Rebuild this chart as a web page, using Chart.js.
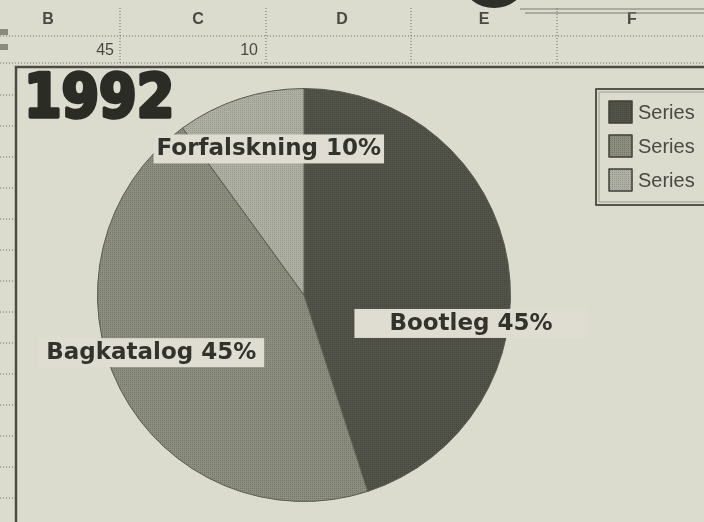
<!DOCTYPE html>
<html>
<head>
<meta charset="utf-8">
<script src="https://cdn.jsdelivr.net/npm/chart.js@4/dist/chart.umd.min.js"></script>
<style>
body{margin:0;background:#dbdbce;}
#wrap{width:704px;height:522px;position:relative;}
</style>
</head>
<body>
<div id="wrap"><canvas id="chart" width="704" height="522"></canvas></div>

<script>

// sheet values
let categories=["Bootleg","Bagkatalog","Forfalskning"];

let shares=[45,45,10];

let legendNames=["Series","Series","Series"];

let columns=["B","C","D","E","F"];

let rowValues=["45","10"];

let year="1992";



let paper="#dbdbce";
let ink="#33332d";


// halftone style fill for each slice
function halftone(a,b){

let c=document.createElement("canvas");
c.width=4;
c.height=4;

let g=c.getContext("2d");
g.fillStyle=a;
g.fillRect(0,0,4,4);
g.fillStyle=b;
g.fillRect(0,0,1,1);
g.fillRect(2,2,1,1);
g.fillRect(2,0,1,1);
g.fillRect(0,2,1,1);

return g.createPattern(c,"repeat");

}


let fills=[
halftone("#52544a","#46483e"),
halftone("#8d8f81","#727466"),
halftone("#aeb0a3","#96988b")
];



function dotted(ctx,x1,y1,x2,y2){

ctx.save();
ctx.strokeStyle="#6c6c62";
ctx.lineWidth=1;
ctx.setLineDash([1,2]);
ctx.beginPath();
ctx.moveTo(x1,y1);
ctx.lineTo(x2,y2);
ctx.stroke();
ctx.restore();

}



// spreadsheet around the chart, frame, title and legend
let sheet={

id:"sheet",

beforeDraw(chart){

let ctx=chart.ctx;

ctx.save();

ctx.fillStyle=paper;
ctx.fillRect(0,0,chart.width,chart.height);


// column heads
ctx.fillStyle="#4a4a44";
ctx.font="bold 16px 'Liberation Sans Narrow', 'Liberation Sans'";
ctx.textAlign="center";
ctx.textBaseline="middle";

let heads=[48,198,342,484,632];
columns.forEach((t,i)=>ctx.fillText(t,heads[i],20));

[120,266,411,557].forEach(x=>dotted(ctx,x,8,x,64));

dotted(ctx,0,36,704,36);
dotted(ctx,0,63,704,63);


// first data row
ctx.font="16px 'Liberation Sans'";
ctx.textAlign="right";
ctx.fillText(rowValues[0],114,51);
ctx.fillText(rowValues[1],258,51);


// row header marks on the left
ctx.fillStyle="#8a8a80";
ctx.fillRect(0,29,8,6);
ctx.fillRect(0,44,8,6);

for(let y=95;y<522;y+=31){
dotted(ctx,0,y,14,y);
}


// lens edge at the top
ctx.fillStyle="#2f2f2a";
ctx.beginPath();
ctx.ellipse(494,-16,30,24,0,0,Math.PI);
ctx.fill();
ctx.fillStyle=paper;
ctx.beginPath();
ctx.ellipse(494,-20,24,20,0,0,Math.PI);
ctx.fill();

ctx.strokeStyle="#7a7a70";
ctx.lineWidth=1;
ctx.beginPath();
ctx.moveTo(520,9);
ctx.lineTo(704,9);
ctx.moveTo(525,13);
ctx.lineTo(704,13);
ctx.stroke();


// chart frame
ctx.strokeStyle="#4c4c44";
ctx.lineWidth=2.5;
ctx.strokeRect(16,67,700,470);


// title
ctx.fillStyle="#2c2c26";
ctx.strokeStyle="#2c2c26";
ctx.lineWidth=3.5;
ctx.lineJoin="round";
ctx.font="bold 60px 'DejaVu Sans Condensed'";
ctx.textAlign="left";
ctx.textBaseline="alphabetic";
ctx.fillText(year,24,117);
ctx.strokeText(year,24,117);


// legend box
ctx.strokeStyle="#55554c";
ctx.lineWidth=2;
ctx.strokeRect(596,89,120,116);
ctx.lineWidth=1;
ctx.strokeStyle="#9a9a90";
ctx.strokeRect(599,92,114,110);

ctx.font="20px 'Liberation Sans'";
ctx.textBaseline="middle";

legendNames.forEach((t,i)=>{

let y=101+i*34;

ctx.fillStyle=fills[i];
ctx.fillRect(609,y,23,22);
ctx.strokeStyle="#3f3f38";
ctx.lineWidth=1.5;
ctx.strokeRect(609,y,23,22);

ctx.fillStyle="#4a4a44";
ctx.fillText(t,638,y+12);

});

ctx.restore();

}

};



// where each slice label sits: angle nudge (deg) and fraction of radius
let labelSpot=[
{da:18.5,f:0.82,pad:35},
{da:6.5,f:0.79,pad:8},
{da:4.5,f:0.73,pad:3}
];


let sliceLabels={

id:"sliceLabels",

afterDatasetsDraw(chart){

let ctx=chart.ctx;
let arcs=chart.getDatasetMeta(0).data;
let total=shares.reduce((a,b)=>a+b,0);

ctx.save();

ctx.font="bold 23px 'DejaVu Sans'";
ctx.textAlign="center";
ctx.textBaseline="middle";

arcs.forEach((arc,i)=>{

let s=labelSpot[i];
let mid=(arc.startAngle+arc.endAngle)/2+s.da*Math.PI/180;
let r=arc.outerRadius*s.f;

let x=arc.x+Math.cos(mid)*r;
let y=arc.y+Math.sin(mid)*r;

let text=categories[i]+" "+Math.round(shares[i]/total*100)+"%";
let w=ctx.measureText(text).width;

ctx.fillStyle="#dfddd1";
ctx.fillRect(x-w/2-s.pad,y-14,w+s.pad*2,29);

ctx.fillStyle=ink;
ctx.fillText(text,x,y+1);

});

ctx.restore();

}

};



new Chart(

document.getElementById("chart"),

{

type:"pie",

data:{

labels:categories,

datasets:[{

data:shares,

backgroundColor:fills,

borderColor:"#5a5a50",

borderWidth:1

}]

},

options:{

responsive:false,

animation:false,

layout:{
padding:{top:88,bottom:20,left:97,right:193}
},

plugins:{
legend:{display:false},
tooltip:{enabled:false}
}

},

plugins:[sheet,sliceLabels]

}

);

</script>
</body>
</html>
